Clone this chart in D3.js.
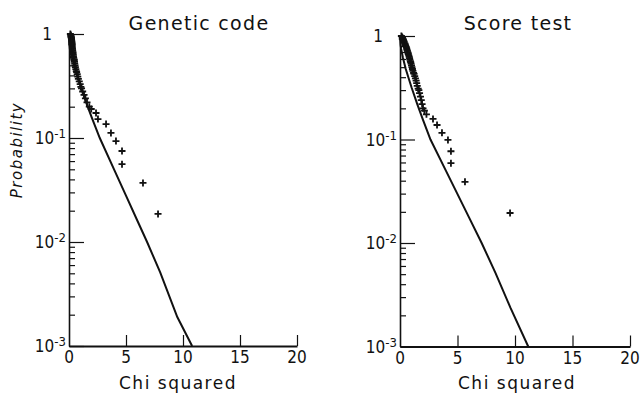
<!DOCTYPE html>
<html>
<head>
<meta charset="utf-8">
<script src="https://cdn.jsdelivr.net/npm/d3@7/dist/d3.min.js"></script>
<style>
  body { margin: 0; background: #fff; }
  text { fill: #111; }
</style>
</head>
<body>
<div id="chartDiv"></div>
<script>
// axis ticks
const xTicks = [0, 5, 10, 15, 20];
const yMajor = [1, 0.1, 0.01, 0.001];
const yMajorExp = ["", "-1", "-2", "-3"];

// Genetic code panel: observed points (chi squared, probability)
const geneticX = [0.12, 0.15, 0.17, 0.18, 0.2, 0.21, 0.22, 0.23, 0.24, 0.25, 0.26, 0.26, 0.27, 0.28, 0.29,
  0.30, 0.31, 0.32, 0.34, 0.36, 0.37, 0.39, 0.41, 0.44, 0.46, 0.48, 0.5, 0.53, 0.56, 0.6, 0.64, 0.67,
  0.72, 0.77, 0.82, 0.9, 0.98, 1.04, 1.1, 1.2, 1.32, 1.44, 1.58, 1.78, 1.95,
  2.37, 2.54, 3.25, 3.68, 4.12, 4.65, 4.65, 6.49, 7.81];
const geneticP = [1.0, 0.98, 0.96, 0.94, 0.93, 0.91, 0.89, 0.87, 0.85, 0.83, 0.81, 0.80, 0.78, 0.76, 0.74,
  0.72, 0.70, 0.69, 0.67, 0.65, 0.63, 0.61, 0.59, 0.57, 0.56, 0.54, 0.52, 0.50, 0.48, 0.46, 0.44, 0.43,
  0.41, 0.39, 0.37, 0.35, 0.33, 0.31, 0.30, 0.28, 0.26, 0.24, 0.22, 0.20, 0.19,
  0.174, 0.152, 0.136, 0.112, 0.0935, 0.075, 0.056, 0.037, 0.0186];
// Genetic code panel: reference curve
const geneticCurveX = [0, 0.05, 0.1, 0.25, 0.5, 1, 1.5, 2, 2.7, 4, 5, 6, 6.85, 8, 9.5, 10.8];
const geneticCurveP = [1, 0.82, 0.75, 0.62, 0.48, 0.32, 0.22, 0.157, 0.1, 0.0486, 0.0279, 0.016, 0.01, 0.0051, 0.0019, 0.001];

// Score test panel: observed points
const scoreX = [0.12, 0.18, 0.22, 0.2, 0.28, 0.3, 0.34, 0.36, 0.42, 0.45, 0.48, 0.5, 0.55, 0.58, 0.6,
  0.64, 0.66, 0.7, 0.72, 0.76, 0.8, 0.83, 0.86, 0.9, 0.93, 0.96, 1.0, 1.04, 1.08, 1.12, 1.18, 1.22,
  1.28, 1.34, 1.4, 1.45, 1.5, 1.58, 1.64, 1.7, 1.78, 1.85, 1.92, 2.0, 2.12, 2.3,
  2.87, 3.22, 3.65, 4.17, 4.43, 4.43, 5.65, 9.57];
const scoreP = [1.0, 0.98, 0.96, 0.94, 0.93, 0.91, 0.89, 0.87, 0.85, 0.83, 0.81, 0.80, 0.78, 0.76, 0.74,
  0.72, 0.70, 0.69, 0.67, 0.65, 0.63, 0.61, 0.59, 0.57, 0.56, 0.54, 0.52, 0.50, 0.48, 0.46, 0.44, 0.43,
  0.41, 0.39, 0.37, 0.35, 0.33, 0.31, 0.30, 0.28, 0.26, 0.24, 0.22, 0.20, 0.19, 0.175,
  0.158, 0.138, 0.116, 0.099, 0.077, 0.059, 0.039, 0.0195];
const scoreCurveX = [0, 0.05, 0.1, 0.25, 0.5, 1, 1.5, 2, 2.65, 4, 5, 6, 7.1, 8.3, 9.6, 11.15];
const scoreCurveP = [1, 0.82, 0.75, 0.62, 0.48, 0.32, 0.22, 0.155, 0.1, 0.0497, 0.0297, 0.0177, 0.01, 0.00515, 0.00237, 0.001];

const svg = d3.select("#chartDiv")
  .append("svg")
  .attr("width", 640)
  .attr("height", 394);

const panels = [
  { title: "Genetic code", px: geneticX, pp: geneticP, cx: geneticCurveX, cp: geneticCurveP,
    left: 69, right: 297, top: 34, bottom: 346, titleX: 199, labelX: 178 },
  { title: "Score test", px: scoreX, pp: scoreP, cx: scoreCurveX, cp: scoreCurveP,
    left: 400, right: 630, top: 36, bottom: 346.5, titleX: 518, labelX: 517 }
];

const tickFont = "'Liberation Sans Narrow', 'DejaVu Sans Condensed', 'Liberation Sans', sans-serif";

panels.forEach(function(p) {
  const x = d3.scaleLinear().domain([0, 20]).range([p.left, p.right]);
  const y = d3.scaleLog().domain([0.001, 1]).range([p.bottom, p.top]);
  const g = svg.append("g");

  // y axis: minor ticks then major ticks, pointing inward
  const minor = y.ticks().filter(v => yMajor.indexOf(v) < 0 && v < 1);
  g.append("g")
    .attr("transform", "translate(" + p.left + ",0)")
    .call(d3.axisRight(y).tickValues(minor).tickSize(6).tickSizeOuter(0).tickFormat(""))
    .call(a => a.selectAll("line").attr("stroke", "#111").attr("stroke-width", 1.2))
    .call(a => a.select(".domain").attr("stroke", "#111").attr("stroke-width", 1.6));
  g.append("g")
    .attr("transform", "translate(" + p.left + ",0)")
    .call(d3.axisRight(y).tickValues(yMajor).tickSize(15).tickSizeOuter(0).tickFormat(""))
    .call(a => a.select(".domain").remove())
    .call(a => a.selectAll("line").attr("stroke", "#111").attr("stroke-width", 1.2));

  // x axis: ticks pointing up
  g.append("g")
    .attr("transform", "translate(0," + p.bottom + ")")
    .call(d3.axisTop(x).tickValues(xTicks.filter(v => v > 0)).tickSize(11).tickSizeOuter(0).tickFormat(""))
    .call(a => a.selectAll("line").attr("stroke", "#111").attr("stroke-width", 1.2))
    .call(a => a.select(".domain").attr("stroke", "#111").attr("stroke-width", 1.8));

  // x tick labels
  g.selectAll(".xl")
    .data(xTicks)
    .enter().append("text")
    .attr("x", d => x(d))
    .attr("y", p.bottom + 17)
    .attr("text-anchor", "middle")
    .style("font-family", tickFont)
    .style("font-size", "17px")
    .text(d => d);

  // y tick labels with superscripts
  yMajor.forEach(function(v, i) {
    const t = g.append("text")
      .attr("y", y(v) + 6)
      .attr("text-anchor", "end")
      .style("font-family", tickFont)
      .style("font-size", "17px");
    if (v === 1) {
      t.attr("x", p.left - 17).text("1");
    } else {
      t.attr("x", p.left - 3);
      t.append("tspan").text("10");
      t.append("tspan").attr("dy", -6).style("font-size", "13px").text(yMajorExp[i]);
    }
  });

  // reference curve
  const line = d3.line().x(d => x(d[0])).y(d => y(d[1]));
  g.append("path")
    .datum(d3.zip(p.cx, p.cp))
    .attr("d", line)
    .attr("fill", "none")
    .attr("stroke", "#111")
    .attr("stroke-width", 2);

  // observed points as plus markers
  g.selectAll(".pt")
    .data(d3.zip(p.px, p.pp))
    .enter().append("path")
    .attr("transform", d => "translate(" + x(d[0]) + "," + y(d[1]) + ")")
    .attr("d", "M-3.5,0H3.5M0,-3.5V3.5")
    .attr("stroke", "#111")
    .attr("stroke-width", 1.8);

  // titles
  g.append("text")
    .attr("x", p.titleX)
    .attr("y", 30)
    .attr("text-anchor", "middle")
    .style("font-family", "'DejaVu Sans', sans-serif")
    .style("font-size", "19px")
    .style("letter-spacing", "1.3px")
    .text(p.title);

  g.append("text")
    .attr("x", p.labelX)
    .attr("y", 389)
    .attr("text-anchor", "middle")
    .style("font-family", "'DejaVu Sans', sans-serif")
    .style("font-size", "17px")
    .style("letter-spacing", "1.5px")
    .text("Chi squared");
});

// y axis title on left panel
svg.append("text")
  .attr("transform", "translate(22,150) rotate(-90)")
  .attr("text-anchor", "middle")
  .style("font-family", "'DejaVu Sans', sans-serif")
  .style("font-style", "italic")
  .style("font-size", "15px")
  .style("letter-spacing", "1.5px")
  .text("Probability");
</script>
</body>
</html>
